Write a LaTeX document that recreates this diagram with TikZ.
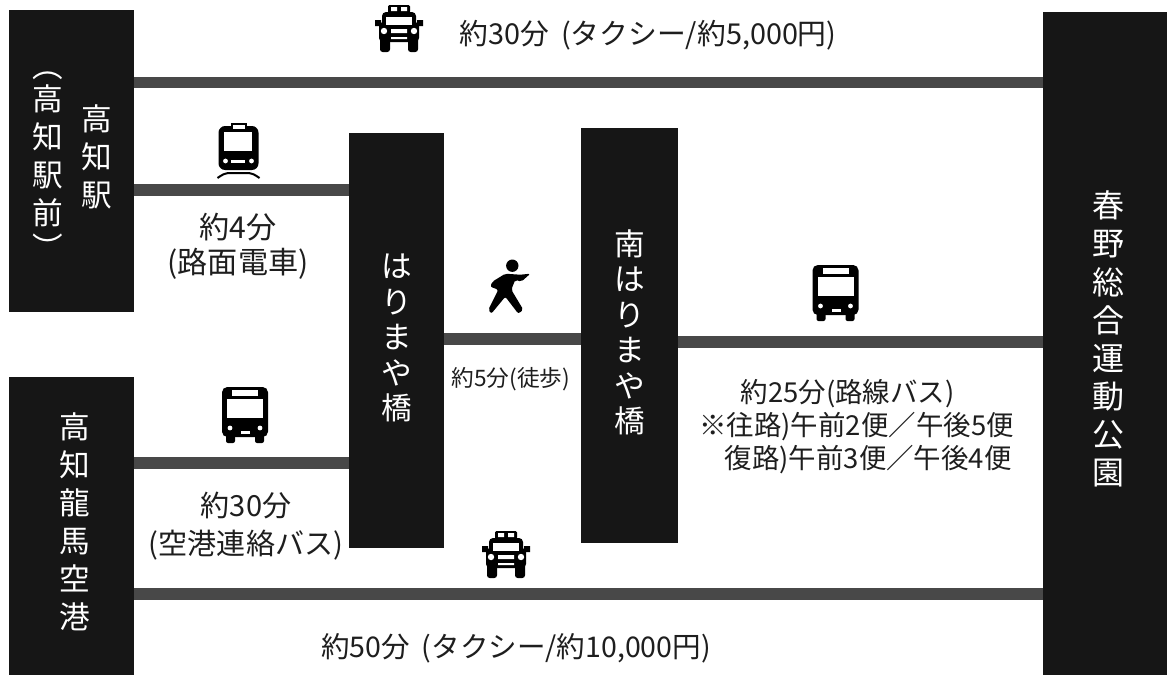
\documentclass[tikz,border=0pt]{standalone}
\usepackage{fontspec}
\setmainfont{Noto Sans CJK JP}
\definecolor{boxc}{HTML}{161616}
\definecolor{linec}{HTML}{484848}
\definecolor{inkc}{HTML}{1E1E1E}
\newcommand{\bx}[2]{\fontsize{#1}{#2}\selectfont}
\tikzset{
  x=0.75pt,y=-0.75pt,
  station/.style={draw=none,fill=boxc,text=white,inner sep=0pt,align=center,font=\bx{23pt}{28.5pt}},
  conn/.style={draw=linec,line width=8.6pt},
  info/.style={text=inkc,inner sep=0pt,align=center,font=\bx{21.6pt}{26pt}},
  ink/.style={fill=black,draw=none},
  hole/.style={fill=white,draw=none},
  taxi/.pic={
    \fill[ink,rounded corners=1pt] (-11,-23) rectangle (11,-15);
    \fill[hole] (-8,-21) rectangle (-2,-17) (2,-21) rectangle (8,-17);
    \fill[ink,rounded corners=3pt] (-17,-16) rectangle (17,0);
    \fill[ink,rounded corners=3pt] (-20,-6) rectangle (20,14);
    \fill[ink] (-24,-8) rectangle (-18,-2) (18,-8) rectangle (24,-2);
    \fill[ink,rounded corners=2pt] (-19,8) rectangle (-9,24) (9,8) rectangle (19,24);
    \fill[hole] (-13,-11) rectangle (13,-3);
    \fill[hole] (-15,3) circle (3.2) (15,3) circle (3.2);
    \fill[hole] (-8,1) rectangle (8,5) (-8,9) rectangle (8,11);
  },
  bus/.pic={
    \fill[ink,rounded corners=4pt] (-23,-28) rectangle (23,22);
    \fill[ink,rounded corners=1.5pt] (-19,18) rectangle (-10,28) (10,18) rectangle (19,28);
    \fill[hole] (-13,-25) rectangle (13,-19.5);
    \fill[hole] (-18,-16) rectangle (18,3);
    \fill[hole] (-15,13) circle (2.4) (15,13) circle (2.4);
    \fill[hole] (-4,16) rectangle (5,19);
  },
  tram/.pic={
    \fill[ink,rounded corners=5pt] (-20,-24) rectangle (20,20);
    \fill[ink] (-8,-27) rectangle (8,-20);
    \fill[hole] (-6,-25) rectangle (6,-21);
    \fill[hole] (-15,-18) rectangle (13,1);
    \fill[hole] (-13,11) circle (2.4) (13,11) circle (2.4);
    \fill[hole] (-8,10) rectangle (6,13);
    \draw[black,line width=1.5pt] (-21,28) .. controls (-15,24) .. (-10,23) -- (10,23) .. controls (15,24) .. (21,28);
  },
  walker/.pic={
    \fill[ink] (4,-21) circle (6.2);
    \fill[ink,rounded corners=1.5pt] (22,-13) -- (13,-5) -- (7,-7) -- (3,3) -- (15,23) -- (10,27) -- (-3,10) -- (-17,27) -- (-20,23) -- (-10,3) -- (-18,0) -- (-16,-5) -- (-3,-13) -- (12,-12) -- cycle;
  }
}
\begin{document}
\begin{tikzpicture}
\useasboundingbox (0,0) rectangle (1167,675);
\fill[white] (0,0) rectangle (1167,675);

% connector heights
\coordinate (ytop) at (0,82.5);
\coordinate (ytram) at (0,190);
\coordinate (ywalk) at (0,339);
\coordinate (yroute) at (0,342);
\coordinate (ybus) at (0,463);
\coordinate (ybot) at (0,594);

% stations
\node[station,minimum width=93.75pt,minimum height=226.5pt] (kochi) at (71.5,161) {%
  \hspace*{1.5pt}\begin{tabular}{@{}c@{\hspace{13.5pt}}c@{}}
  \begin{tabular}{@{}c@{}}︵\\[-4pt]高\\知\\駅\\前\\[-2pt]︶\end{tabular} &
  \begin{tabular}{@{}c@{}}高\\知\\駅\end{tabular}
  \end{tabular}};
\node[station,minimum width=93.75pt,minimum height=223.5pt] (airport) at (71.5,526) {\hspace*{5pt}\begin{tabular}{@{}c@{}}高\\知\\龍\\馬\\空\\港\end{tabular}};
\node[station,minimum width=71.25pt,minimum height=311.25pt,font=\bx{23pt}{26.6pt}] (hari) at (396.5,340.5) {は\\り\\ま\\や\\橋\\[-21.3pt]};
\node[station,minimum width=72.75pt,minimum height=311.25pt,font=\bx{23pt}{26.6pt}] (minami) at (629.5,335.5) {南\\は\\り\\ま\\や\\橋\\[-19.8pt]};
\node[station,minimum width=93pt,minimum height=497.25pt,font=\bx{24pt}{28.5pt}] (park) at (1105,343.5) {\hspace*{4.5pt}\begin{tabular}{@{}c@{}}春\\野\\総\\合\\運\\動\\公\\園\end{tabular}};

% connectors
\draw[conn] (kochi.east |- ytop) -- (park.west |- ytop);
\draw[conn] (kochi.east |- ytram) -- (hari.west |- ytram);
\draw[conn] (airport.east |- ybus) -- (hari.west |- ybus);
\draw[conn] (hari.east |- ywalk) -- (minami.west |- ywalk);
\draw[conn] (minami.east |- yroute) -- (park.west |- yroute);
\draw[conn] (airport.east |- ybot) -- (park.west |- ybot);

% pictograms
\pic at (399,28) {taxi};
\pic at (238.5,150) {tram};
\pic at (245,415) {bus};
\pic at (508.3,286.7) {walker};
\pic at (835.5,293) {bus};
\pic at (506,554) {taxi};

% labels
\node[info] (ltaxi1) at (648,35) {約30分\hspace{9pt}(タクシー/約5,000円)};
\node[info,font=\bx{22.6pt}{26pt}] (ltram) at (238,246) {約4分\\(路面電車)};
\node[info,font=\bx{17pt}{20pt}] (lwalk) at (511,379) {約5分(徒歩)};
\node[info,anchor=west,align=left,font=\bx{20.6pt}{24.5pt}] (lroute) at (699,426.5) {\hspace*{31pt}約25分(路線バス)\\※往路)午前2便／午後5便\\\hspace*{19pt}復路)午前3便／午後4便};
\node[info,font=\bx{21.8pt}{28pt}] (lbus) at (246,526) {約30分\\(空港連絡バス)};
\node[info,font=\bx{21.4pt}{26pt}] (ltaxi2) at (516,648) {約50分\hspace{9pt}(タクシー/約10,000円)};
\end{tikzpicture}
\end{document}
